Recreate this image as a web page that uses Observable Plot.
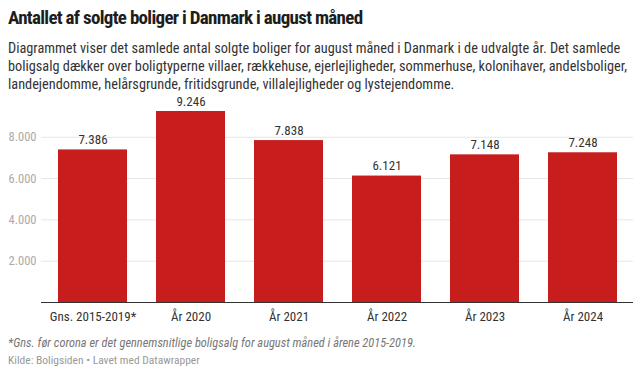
<!DOCTYPE html>
<html>
<head>
<meta charset="utf-8">
<script src="https://cdn.jsdelivr.net/npm/d3@7"></script>
<script src="https://cdn.jsdelivr.net/npm/@observablehq/plot@0.6"></script>
<style>
  body { margin: 0; background: #fff; font-family: "Roboto Condensed", "Liberation Sans Narrow", "Arial Narrow", sans-serif; color: #222; }
  #wrap { width: 642px; }
  h1 { margin: 6px 8px 0 8px; font-size: 19px; line-height: 24px; font-weight: 700; color: #1d1d1d; letter-spacing: -0.7px; }
  .sub { margin: 9px 8px 0 8px; font-size: 14.3px; line-height: 18px; color: #333; }
  .note { margin: 5px 8px 0 8px; font-size: 12.4px; line-height: 16px; font-style: italic; color: #777; }
  .credit { margin: 1px 8px 0 8px; font-size: 11.5px; line-height: 16px; color: #999; }
  svg { display: block; }
</style>
</head>
<body>
<div id="wrap">
  <h1>Antallet af solgte boliger i Danmark i august måned</h1>
  <div class="sub">Diagrammet viser det samlede antal solgte boliger for august måned i Danmark i de udvalgte år. Det samlede boligsalg dækker over boligtyperne villaer, rækkehuse, ejerlejligheder, sommerhuse, kolonihaver, andelsboliger, landejendomme, helårsgrunde, fritidsgrunde, villalejligheder og lystejendomme.</div>
  <div id="chart"></div>
  <div class="note">*Gns. før corona er det gennemsnitlige boligsalg for august måned i årene 2015-2019.</div>
  <div class="credit">Kilde: Boligsiden • Lavet med Datawrapper</div>
</div>
<script>
const categories = ["Gns. 2015-2019*", "År 2020", "År 2021", "År 2022", "År 2023", "År 2024"];
const values = [7386, 9246, 7838, 6121, 7148, 7248];
const yTicks = [2000, 4000, 6000, 8000];

const data = categories.map((c, i) => ({category: c, value: values[i]}));
const loc = d3.formatLocale({decimal: ",", thousands: ".", grouping: [3], currency: ["", ""]});
const fmt = loc.format(",d");

const chart = Plot.plot({
  width: 642,
  height: 237,
  marginLeft: 41,
  marginRight: 9,
  marginTop: 18,
  marginBottom: 28,
  style: {fontFamily: "'Roboto Condensed', 'Liberation Sans Narrow', 'Arial Narrow', sans-serif", fontSize: "13px", background: "#fff"},
  x: {domain: categories, paddingInner: 0.3, paddingOuter: 0.15, label: null},
  y: {domain: [0, d3.max(values)], label: null},
  marks: [
    Plot.ruleY(yTicks, {stroke: "#e6e6e6", strokeWidth: 1}),
    Plot.barY(data, {x: "category", y: "value", fill: "#c71e1d"}),
    Plot.ruleY([0], {stroke: "#333", strokeWidth: 1}),
    Plot.text(data, {x: "category", y: "value", text: d => fmt(d.value), dy: -10, fill: "#333", fontSize: 13}),
    Plot.axisY({ticks: yTicks, tickFormat: fmt, tickSize: 0, tickPadding: 5, fill: "#aaa", fontSize: 12.5, label: null}),
    Plot.axisX({tickSize: 0, tickPadding: 9, fill: "#333", fontSize: 13, label: null})
  ]
});
document.getElementById("chart").appendChild(chart);
</script>
</body>
</html>
